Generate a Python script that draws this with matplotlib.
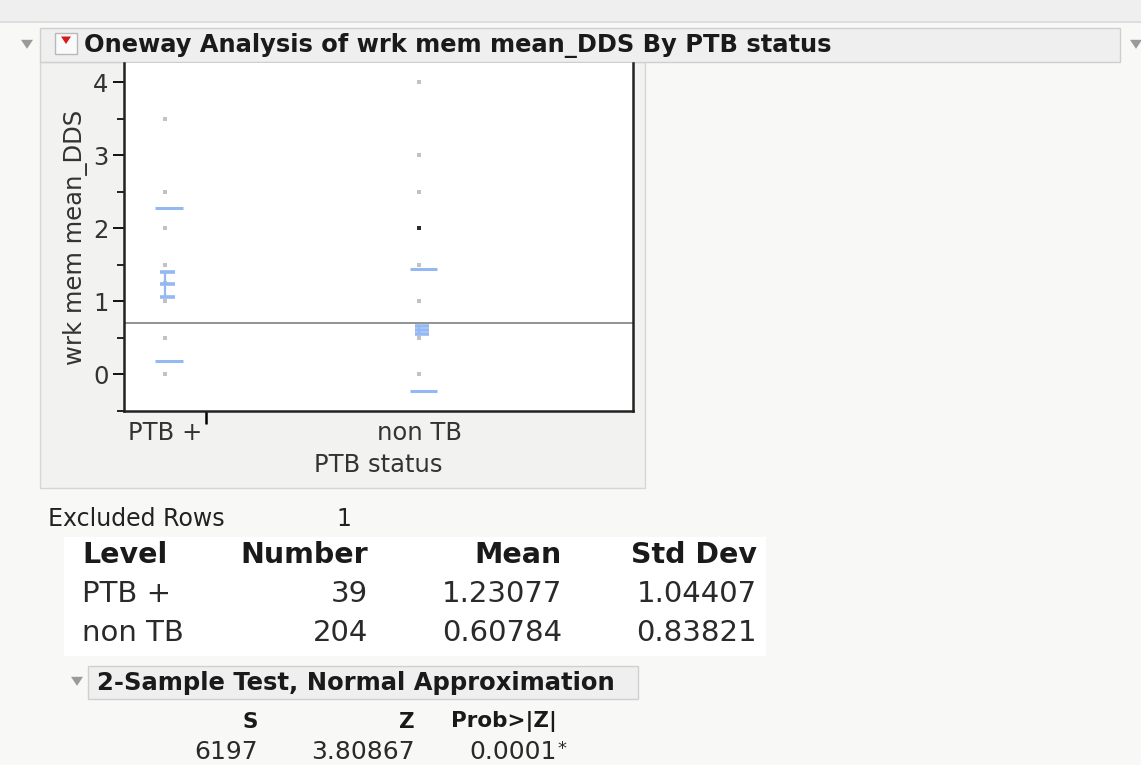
import matplotlib
matplotlib.use("Agg")
import matplotlib.pyplot as plt
import numpy as np
from matplotlib.patches import Rectangle, Polygon

plt.rcParams.update({
    "font.family": "DejaVu Sans",
    "font.size": 15,
})

# ---- data ----
levels = ["PTB +", "non TB"]
counts = [39, 204]
means = [1.23077, 0.60784]
std_devs = [1.04407, 0.83821]
excluded_rows = 1

ptb_points = [0.0, 0.5, 1.0, 1.25, 1.5, 2.0, 2.5, 3.5]
nontb_points = [0.0, 0.5, 1.0, 1.5, 2.5, 3.0, 4.0]
nontb_highlight = [2.0]

test_cols = ["S", "Z", "Prob>|Z|"]
test_vals = ["6197", "3.80867", "0.0001*"]

W, H = 1141, 765
fig = plt.figure(figsize=(W / 100, H / 100), dpi=100)
fig.patch.set_facecolor("#f8f8f6")


def px(x, y):
    return x / W, 1 - y / H


def rect(x0, y0, x1, y1, fc, ec="none", lw=1.0, z=0):
    r = Rectangle(px(x0, y1), (x1 - x0) / W, (y1 - y0) / H, transform=fig.transFigure,
                  facecolor=fc, edgecolor=ec, linewidth=lw, zorder=z)
    fig.add_artist(r)


def tri(cx, cy, s, color, z=3):
    pts = [px(cx - s, cy - s * 0.7), px(cx + s, cy - s * 0.7), px(cx, cy + s * 0.8)]
    fig.add_artist(Polygon(pts, closed=True, transform=fig.transFigure, facecolor=color,
                           edgecolor="none", zorder=z))


def txt(x, y, s, ha="left", size=15, weight="normal", color="#1a1a1a"):
    fig.text(*px(x, y), s, ha=ha, va="center", fontsize=size, fontweight=weight, color=color)


# window chrome
rect(0, 0, W, 21, "#efefef")
rect(0, 21, W, 23, "#dedede")
rect(40, 62, 645, 488, "#f2f2f0", ec="#d6d6d6", lw=1)
rect(40, 28, 1120, 62, "#efefef", ec="#cfcfcf", lw=1)
tri(27, 44, 6, "#9a9a9a")
tri(1136, 44, 6, "#9a9a9a")
rect(55, 33, 77, 54, "#fafafa", ec="#b9b9b9", lw=1, z=2)
tri(66, 40, 5, "#d61a1a")
txt(84, 45, "Oneway Analysis of wrk mem mean_DDS By PTB status", size=17.4, weight="bold")

# ---- plot ----
ax = fig.add_axes([124 / W, 1 - 411 / H, 509 / W, 348 / H])
ax.set_facecolor("white")

edges = np.concatenate([[0], np.cumsum(counts)])
centers = (edges[:-1] + edges[1:]) / 2
ax.set_xlim(edges[0], edges[-1])
ax.set_ylim(-0.5, 4.26)

grand_mean = np.sum(np.array(counts) * np.array(means)) / np.sum(counts)
ax.axhline(grand_mean, color="#8a8a8a", lw=1.3, zorder=1)

ax.scatter([centers[0]] * len(ptb_points), ptb_points, s=7, marker="s", color="#c2c2c2",
           linewidths=0, zorder=2)
ax.scatter([centers[1]] * len(nontb_points), nontb_points, s=7, marker="s", color="#c2c2c2",
           linewidths=0, zorder=2)
ax.scatter([centers[1]] * len(nontb_highlight), nontb_highlight, s=8, marker="s",
           color="#2b2b2b", linewidths=0, zorder=2)

blue = "#93b8f2"
for c, n, m, sd in zip(centers, counts, means, std_devs):
    se = sd / np.sqrt(n)
    # std dev lines
    for v in (m - sd, m + sd):
        ax.plot([c - 4.6, c + 8.6], [v, v], color=blue, lw=2.2, solid_capstyle="butt", zorder=3)
    # mean with std error bars
    ax.plot([c - 2.2, c + 4.8], [m, m], color=blue, lw=2.6, solid_capstyle="butt", zorder=3)
    ax.plot([c, c], [m - se, m + se], color=blue, lw=1.6, zorder=3)
    for v in (m - se, m + se):
        ax.plot([c - 2.2, c + 4.8], [v, v], color=blue, lw=2.6, solid_capstyle="butt", zorder=3)

ax.set_yticks([0, 1, 2, 3, 4])
ax.set_yticks(np.arange(-0.5, 4.3, 0.5), minor=True)
ax.tick_params(axis="y", which="major", length=8, width=1.3, labelsize=17.5, pad=3,
               labelcolor="#333333")
ax.tick_params(axis="y", which="minor", length=5, width=1.2)

ax.set_xticks(centers)
ax.set_xticklabels(levels)
ax.set_xticks(edges[1:-1], minor=True)
ax.tick_params(axis="x", which="major", length=0, labelsize=17.5, pad=7, labelcolor="#333333")
ax.tick_params(axis="x", which="minor", length=9, width=1.8)

for side in ("left", "bottom", "right"):
    ax.spines[side].set_linewidth(1.8)
    ax.spines[side].set_color("#222222")
ax.spines["top"].set_visible(False)

ax.set_ylabel("wrk mem mean_DDS", fontsize=17.5, color="#333333", labelpad=4)
ax.set_xlabel("PTB status", fontsize=17.5, color="#333333", labelpad=6)

# ---- summary table ----
txt(48, 519, "Excluded Rows", size=17, color="#222222")
txt(336, 519, str(excluded_rows), size=17, color="#222222")

rect(64, 537, 766, 656, "white")
col_right = [368, 562, 757]
row_y = [555, 594, 633]
txt(82, row_y[0], "Level", size=20.5, weight="bold")
for x, h in zip(col_right, ["Number", "Mean", "Std Dev"]):
    txt(x, row_y[0], h, ha="right", size=20.5, weight="bold")
for i, lev in enumerate(levels):
    y = row_y[i + 1]
    txt(82, y, lev, size=21, color="#2a2a2a")
    txt(col_right[0], y, f"{counts[i]}", ha="right", size=21, color="#2a2a2a")
    txt(col_right[1], y, f"{means[i]:.5f}", ha="right", size=21, color="#2a2a2a")
    txt(col_right[2], y, f"{std_devs[i]:.5f}", ha="right", size=21, color="#2a2a2a")

# ---- 2-sample test ----
tri(77, 681, 6, "#9a9a9a")
rect(88, 666, 638, 699, "#efefef", ec="#d0d0d0", lw=1)
txt(97, 683, "2-Sample Test, Normal Approximation", size=17.5, weight="bold")
test_right = [258, 415, 557]
for x, h in zip(test_right, test_cols):
    txt(x, 722, h, ha="right", size=15.5, weight="bold")
for x, v in zip(test_right, test_vals):
    if v.endswith("*"):
        txt(x, 752, v[:-1], ha="right", size=18, color="#2a2a2a")
        txt(x, 749, "*", ha="left", size=13, color="#2a2a2a")
    else:
        txt(x, 752, v, ha="right", size=18, color="#2a2a2a")

fig.savefig("out.png", dpi=100, facecolor=fig.get_facecolor())
